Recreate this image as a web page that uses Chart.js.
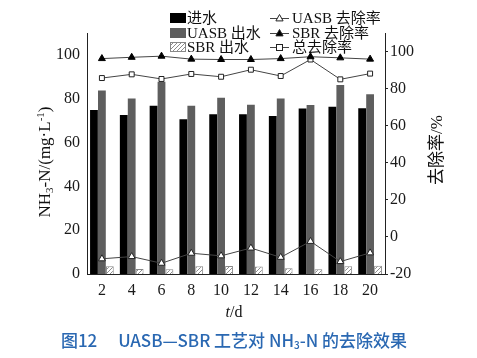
<!DOCTYPE html>
<html><head><meta charset="utf-8">
<script src="https://cdn.jsdelivr.net/npm/chart.js@4/dist/chart.umd.min.js"></script>
<style>html,body{margin:0;padding:0;background:#fff;}#wrap{position:relative;width:477px;height:358px;}</style>
</head><body><div id="wrap"><canvas id="c" width="477" height="358"></canvas></div>
<script>
const categories = ['2','4','6','8','10','12','14','16','18','20'];
const influent = [74.8, 72.6, 76.8, 70.6, 72.9, 72.9, 72.1, 75.5, 76.3, 75.7];
const uasbEffluent = [83.8, 80.1, 87.8, 76.8, 80.4, 77.2, 80.1, 77.1, 86.3, 82.0];
const sbrEffluent = [3.5, 2.3, 2.2, 3.5, 3.6, 3.4, 2.6, 2.2, 3.5, 3.8];
const uasbRemoval = [-11.8, -10.6, -14.2, -8.8, -10.2, -6.0, -11.0, -2.4, -13.3, -8.6];
const sbrRemoval = [96.2, 96.9, 97.5, 95.9, 95.7, 95.7, 96.2, 97.2, 96.6, 95.9];
const totalRemoval = [85.7, 87.7, 85.2, 87.9, 86.4, 90.2, 86.8, 95.7, 85.0, 88.1];
const leftTicks = [0, 20, 40, 60, 80, 100];
const rightTicks = [-20, 0, 20, 40, 60, 80, 100];
const seriesNames = ['进水', 'UASB 出水', 'SBR 出水', 'UASB 去除率', 'SBR 去除率', '总去除率'];

const SERIF = "'Liberation Serif','Noto Sans CJK SC',serif";
const LINE_COL = '#444';

function makeHatch() {
  const c = document.createElement('canvas'); c.width = 4; c.height = 4;
  const x = c.getContext('2d');
  x.fillStyle = '#fff'; x.fillRect(0, 0, 4, 4);
  x.strokeStyle = '#8c8c8c'; x.lineWidth = 1;
  x.beginPath();
  x.moveTo(0, 4); x.lineTo(4, 0);
  x.moveTo(-1, 1); x.lineTo(1, -1);
  x.moveTo(3, 5); x.lineTo(5, 3);
  x.stroke();
  return x.createPattern(c, 'repeat');
}
const hatch = makeHatch();

function drawMarker(ctx, style, x, y) {
  ctx.save();
  ctx.lineWidth = 1; ctx.strokeStyle = '#222';
  if (style === 'tri-open' || style === 'tri-fill') {
    const r = 4;
    ctx.beginPath();
    ctx.moveTo(x, y - r);
    ctx.lineTo(x + r * 0.9, y + r * 0.6);
    ctx.lineTo(x - r * 0.9, y + r * 0.6);
    ctx.closePath();
    ctx.fillStyle = style === 'tri-fill' ? '#000' : '#fff';
    ctx.fill(); ctx.stroke();
  } else {
    ctx.fillStyle = '#fff';
    ctx.fillRect(x - 3, y - 3, 6, 6);
    ctx.strokeRect(x - 3, y - 3, 6, 6);
  }
  ctx.restore();
}

function drawPieces(ctx, pieces, cx, cy) {
  let total = 0;
  pieces.forEach(p => { ctx.font = p[1]; total += ctx.measureText(p[0]).width; });
  let x = cx - total / 2;
  pieces.forEach(p => {
    ctx.font = p[1];
    ctx.fillText(p[0], x, cy + (p[2] || 0));
    x += ctx.measureText(p[0]).width;
  });
}

const decor = {
  id: 'decor',
  afterDraw(chart) {
    const ctx = chart.ctx;
    ctx.save();
    ctx.textBaseline = 'middle';
    ctx.textAlign = 'left';
    ctx.fillStyle = '#111';
    const rows = [18, 33, 47];
    const boxFills = ['#000', '#5e5e5e', hatch];
    for (let i = 0; i < 3; i++) {
      const y = rows[i];
      ctx.fillStyle = boxFills[i];
      ctx.fillRect(170, y - 5, 16, 10);
      if (i === 2) { ctx.strokeStyle = '#888'; ctx.lineWidth = 1; ctx.strokeRect(170.5, y - 4.5, 15, 9); }
      ctx.fillStyle = '#111';
      ctx.font = '15px ' + SERIF;
      ctx.fillText(seriesNames[i], 187, y + 1);
    }
    const mk = ['tri-open', 'tri-fill', 'sq'];
    for (let i = 0; i < 3; i++) {
      const y = rows[i];
      ctx.strokeStyle = LINE_COL; ctx.lineWidth = 1;
      ctx.beginPath(); ctx.moveTo(270, y + 0.5); ctx.lineTo(289, y + 0.5); ctx.stroke();
      drawMarker(ctx, mk[i], 279.5, y + 0.5);
      ctx.fillStyle = '#111';
      ctx.font = '15px ' + SERIF;
      ctx.fillText(seriesNames[3 + i], 292, y + 1);
    }
    ctx.save();
    ctx.translate(46, 162);
    ctx.rotate(-Math.PI / 2);
    ctx.fillStyle = '#111';
    drawPieces(ctx, [
      ['NH', '17px ' + SERIF, 0],
      ['3', '11px ' + SERIF, 4],
      ['-N/(mg·L', '17px ' + SERIF, 0],
      ['-1', '11px ' + SERIF, -5],
      [')', '17px ' + SERIF, 0]
    ], 0, 0);
    ctx.restore();
    ctx.save();
    ctx.translate(438, 150);
    ctx.rotate(-Math.PI / 2);
    ctx.fillStyle = '#111';
    drawPieces(ctx, [['去除率/%', '17px ' + SERIF, 0]], 0, 0);
    ctx.restore();
    ctx.fillStyle = '#111';
    drawPieces(ctx, [['t', 'italic 16px ' + SERIF, 0], ['/d', '16px ' + SERIF, 0]], 234, 313);
    ctx.fillStyle = '#2a68b2';
    const CF = "500 17px 'Noto Sans CJK SC',sans-serif";
    drawPieces(ctx, [
      ['图12\u2003 UASB—SBR 工艺对 NH', CF, 0],
      ['3', "500 10px 'Noto Sans CJK SC',sans-serif", 4],
      ['-N 的去除效果', CF, 0]
    ], 234, 341);
    ctx.restore();
  }
};

const tickFont = { family: 'Liberation Serif', size: 16 };

new Chart(document.getElementById('c'), {
  data: {
    labels: categories,
    datasets: [
      { type: 'bar', label: seriesNames[0], data: influent, backgroundColor: '#000', yAxisID: 'y', order: 2,
        categoryPercentage: 0.8, barPercentage: 0.98 },
      { type: 'bar', label: seriesNames[1], data: uasbEffluent, backgroundColor: '#5e5e5e', yAxisID: 'y', order: 2,
        categoryPercentage: 0.8, barPercentage: 0.98 },
      { type: 'bar', label: seriesNames[2], data: sbrEffluent, backgroundColor: hatch, borderColor: '#888', borderWidth: 1,
        yAxisID: 'y', order: 2, categoryPercentage: 0.8, barPercentage: 0.98 },
      { type: 'line', label: seriesNames[3], data: uasbRemoval, yAxisID: 'y1', order: 0,
        borderColor: LINE_COL, borderWidth: 1, pointStyle: 'triangle', pointRadius: 4,
        pointBackgroundColor: '#fff', pointBorderColor: '#222', pointBorderWidth: 1, tension: 0 },
      { type: 'line', label: seriesNames[4], data: sbrRemoval, yAxisID: 'y1', order: 0,
        borderColor: LINE_COL, borderWidth: 1, pointStyle: 'triangle', pointRadius: 4,
        pointBackgroundColor: '#000', pointBorderColor: '#000', pointBorderWidth: 1, tension: 0 },
      { type: 'line', label: seriesNames[5], data: totalRemoval, yAxisID: 'y1', order: 0,
        borderColor: LINE_COL, borderWidth: 1, pointStyle: 'rect', pointRadius: 3.5,
        pointBackgroundColor: '#fff', pointBorderColor: '#222', pointBorderWidth: 1, tension: 0 }
    ]
  },
  options: {
    responsive: false,
    animation: false,
    devicePixelRatio: 1,
    layout: { padding: { top: 33, left: 0, right: 0, bottom: 0 } },
    plugins: { legend: { display: false }, tooltip: { enabled: false } },
    scales: {
      x: {
        type: 'category', offset: true,
        grid: { display: false, drawTicks: false },
        border: { display: true, color: '#222', width: 1 },
        ticks: { font: tickFont, color: '#1a1a1a', padding: 7, maxRotation: 0 },
        afterFit(s) { s.height = 84; }
      },
      y: {
        position: 'left', min: 0, max: 110,
        grid: { display: false, drawTicks: false },
        border: { display: true, color: '#222', width: 1 },
        ticks: { font: tickFont, color: '#1a1a1a', padding: 7 },
        afterBuildTicks(s) { s.ticks = leftTicks.map(v => ({ value: v })); },
        afterFit(s) { s.width = 87; }
      },
      y1: {
        position: 'right', min: -20, max: 110,
        grid: { display: true, drawOnChartArea: false, drawTicks: true, tickLength: 3, color: '#222' },
        border: { display: true, color: '#222', width: 1 },
        ticks: { font: tickFont, color: '#1a1a1a', padding: 2 },
        afterBuildTicks(s) { s.ticks = rightTicks.map(v => ({ value: v })); },
        afterFit(s) { s.width = 92; }
      }
    }
  },
  plugins: [decor]
});
</script>
</body></html>
